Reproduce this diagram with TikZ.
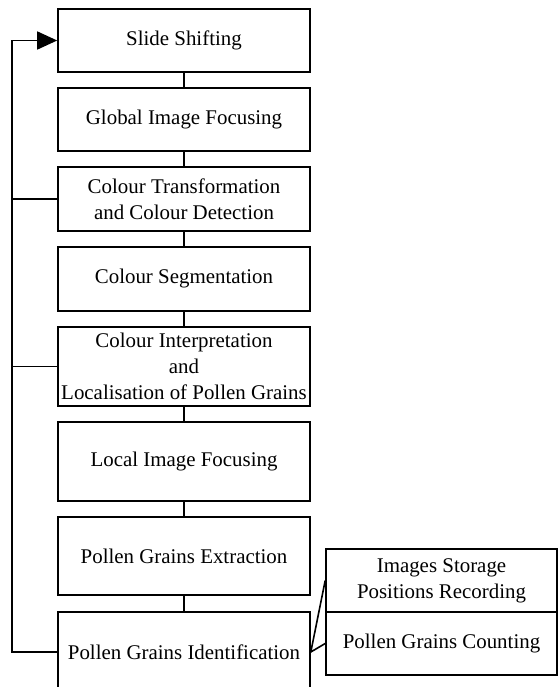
\documentclass[tikz,border=0pt]{standalone}
\usepackage{fontspec}
\setmainfont{Liberation Serif}
\usetikzlibrary{arrows.meta}
\begin{document}
\begin{tikzpicture}[x=1pt,y=-1pt,
  line width=1.6pt,
  box/.style={draw, rectangle, inner sep=0pt, minimum width=252pt, align=center,
    font=\fontsize{20.9}{25.8}\selectfont},
  rbox/.style={draw, rectangle, inner sep=0pt, minimum width=231pt, minimum height=63pt, align=center,
    font=\fontsize{20.9}{25.8}\selectfont},
  link/.style={draw, line width=1.6pt},
  fb/.style={draw, line width=1.6pt, line join=miter}
]
\useasboundingbox (0,0) rectangle (558,687);
\node[box, minimum height=63pt] (b1) at (184,40.5) {Slide Shifting};
\node[box, minimum height=63pt] (b2) at (184,119.5) {Global Image Focusing};
\node[box, minimum height=64pt] (b3) at (184,199) {Colour Transformation\\and Colour Detection};
\node[box, minimum height=64pt] (b4) at (184,279) {Colour Segmentation};
\node[box, minimum height=79pt] (b5) at (184,366.5) {Colour Interpretation\\and\\Localisation of Pollen Grains};
\node[box, minimum height=79pt] (b6) at (184,461.5) {Local Image Focusing};
\node[box, minimum height=78pt] (b7) at (184,556) {Pollen Grains Extraction};
\node[box, minimum height=80pt] (b8) at (184,652) {Pollen Grains Identification};
\node[rbox] (r1) at (441.5,580.5) {Images Storage\\Positions Recording};
\node[rbox] (r2) at (441.5,643.5) {Pollen Grains Counting};

\draw[link] (b1) -- (b2);
\draw[link] (b2) -- (b3);
\draw[link] (b3) -- (b4);
\draw[link] (b4) -- (b5);
\draw[link] (b5) -- (b6);
\draw[link] (b6) -- (b7);
\draw[link] (b7) -- (b8);

\coordinate (fl) at (12,652);
\coordinate (ft) at (12,40.5);
\draw[fb, -{Triangle[length=20pt,width=18pt]}] (b8.west) -- (fl) -- (ft) -- (b1.west);
\draw[link] (b3.west) -- (b3.west -| fl);
\draw[link] (b5.west) -- (b5.west -| fl);

\draw[link] (r1.west) -- (b8.east) -- (r2.west);
\end{tikzpicture}
\end{document}
